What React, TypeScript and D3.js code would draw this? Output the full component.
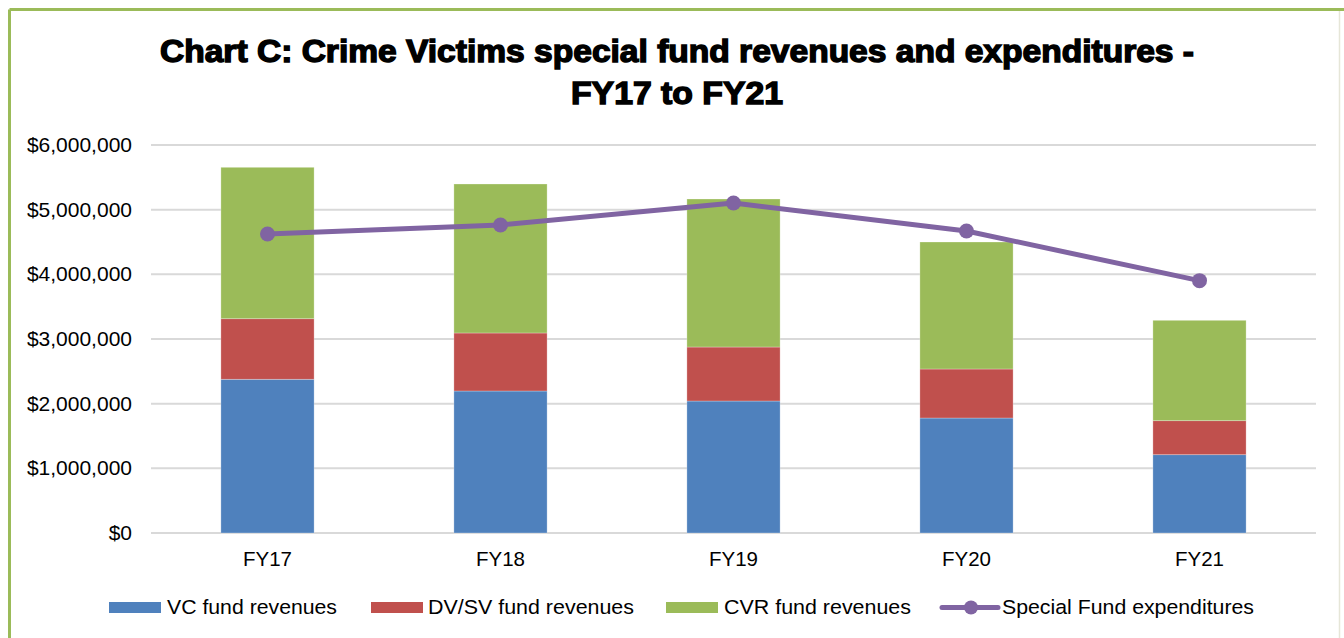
import React from "react";
import * as d3 from "d3";

const categories = ["FY17", "FY18", "FY19", "FY20", "FY21"];
const vcRevenues = [2377000, 2196000, 2041000, 1778000, 1211000];
const dvsvRevenues = [937000, 897000, 835000, 758000, 526000];
const cvrRevenues = [2341000, 2304000, 2289000, 1964000, 1552000];
const expenditures = [4624000, 4763000, 5103000, 4670000, 3902000];
const yTicks = [0, 1000000, 2000000, 3000000, 4000000, 5000000, 6000000];

const seriesNames = ["VC fund revenues", "DV/SV fund revenues", "CVR fund revenues"];
const seriesColors = ["#4f81bd", "#c0504d", "#9bbb59"];
const lineName = "Special Fund expenditures";
const lineColor = "#8064a2";

export default function App() {
  const W = 1344, H = 638;
  const left = 151, right = 1316, top = 145, bottom = 533;
  const x = d3.scaleBand<string>().domain(categories).range([left, right]).paddingInner(0.6).paddingOuter(0.3);
  const y = d3.scaleLinear().domain([0, 6000000]).range([bottom, top]);
  const rows = categories.map((c, i) => ({ cat: c, vc: vcRevenues[i], dv: dvsvRevenues[i], cvr: cvrRevenues[i] }));
  const stack = d3.stack<any>().keys(["vc", "dv", "cvr"])(rows);
  const fmt = (v: number) => "$" + d3.format(",")(v);
  const line = d3.line<number>().x((_, i) => (x(categories[i]) as number) + x.bandwidth() / 2).y((d) => y(d));
  const font = "Liberation Sans, Arial, sans-serif";

  const legendItems = [
    { x: 109, label: seriesNames[0], color: seriesColors[0], type: "rect", tx: 167, tw: 170 },
    { x: 371, label: seriesNames[1], color: seriesColors[1], type: "rect", tx: 428, tw: 206 },
    { x: 666, label: seriesNames[2], color: seriesColors[2], type: "rect", tx: 724, tw: 187 },
    { x: 942, label: lineName, color: lineColor, type: "line", tx: 1002, tw: 252 },
  ];

  return (
    <svg width={W} height={H} style={{ position: "absolute", left: 0, top: 0, background: "#fff" }} fontFamily={font}>
      <rect x={0} y={0} width={W} height={H} fill="#fff" />
      <line x1={9.5} y1={9.5} x2={W} y2={9.5} stroke="#9bbb59" strokeWidth={3} />
      <line x1={9.5} y1={9.5} x2={9.5} y2={H} stroke="#9bbb59" strokeWidth={3} />
      <line x1={1339.5} y1={11} x2={1339.5} y2={H} stroke="#e6e6d8" strokeWidth={1.5} />
      <text x={677} y={62} textAnchor="middle" fontSize={31} fontWeight="bold" stroke="#000" strokeWidth={1.4}
        textLength={1034} lengthAdjust="spacingAndGlyphs">
        Chart C: Crime Victims special fund revenues and expenditures -
      </text>
      <text x={677} y={104} textAnchor="middle" fontSize={31} fontWeight="bold" stroke="#000" strokeWidth={1.4}
        textLength={212} lengthAdjust="spacingAndGlyphs">
        FY17 to FY21
      </text>
      {yTicks.map((t) => (
        <g key={t}>
          <line x1={left} x2={right} y1={y(t)} y2={y(t)} stroke="#d9d9d9" strokeWidth={2} />
          <text x={132} y={y(t) + 7} textAnchor="end" fontSize={21} fill="#000">{fmt(t)}</text>
        </g>
      ))}
      {stack.map((s, si) => (
        <g key={si}>
          {s.map((d, i) => (
            <rect key={i} x={x(categories[i])} width={x.bandwidth()} y={y(d[1])} height={y(d[0]) - y(d[1])}
              fill={seriesColors[si]} stroke="#ffffff" strokeOpacity={0.35} strokeWidth={0.8} />
          ))}
        </g>
      ))}
      {categories.map((c) => (
        <text key={c} x={(x(c) as number) + x.bandwidth() / 2} y={566} textAnchor="middle" fontSize={20.5} fill="#000">{c}</text>
      ))}
      <path d={line(expenditures) || ""} fill="none" stroke={lineColor} strokeWidth={5} strokeLinejoin="round" />
      {expenditures.map((v, i) => (
        <circle key={i} cx={(x(categories[i]) as number) + x.bandwidth() / 2} cy={y(v)} r={7.5} fill={lineColor} />
      ))}
      {legendItems.map((it) => (
        <g key={it.label}>
          {it.type === "rect" ? (
            <rect x={it.x} y={602} width={52} height={11} fill={it.color} />
          ) : (
            <g>
              <line x1={it.x} x2={it.x + 56} y1={607.5} y2={607.5} stroke={it.color} strokeWidth={5} strokeLinecap="round" />
              <circle cx={it.x + 29} cy={607.5} r={7} fill={it.color} />
            </g>
          )}
          <text x={it.tx} y={614} fontSize={20.5} fill="#000" textLength={it.tw} lengthAdjust="spacingAndGlyphs">{it.label}</text>
        </g>
      ))}
    </svg>
  );
}
